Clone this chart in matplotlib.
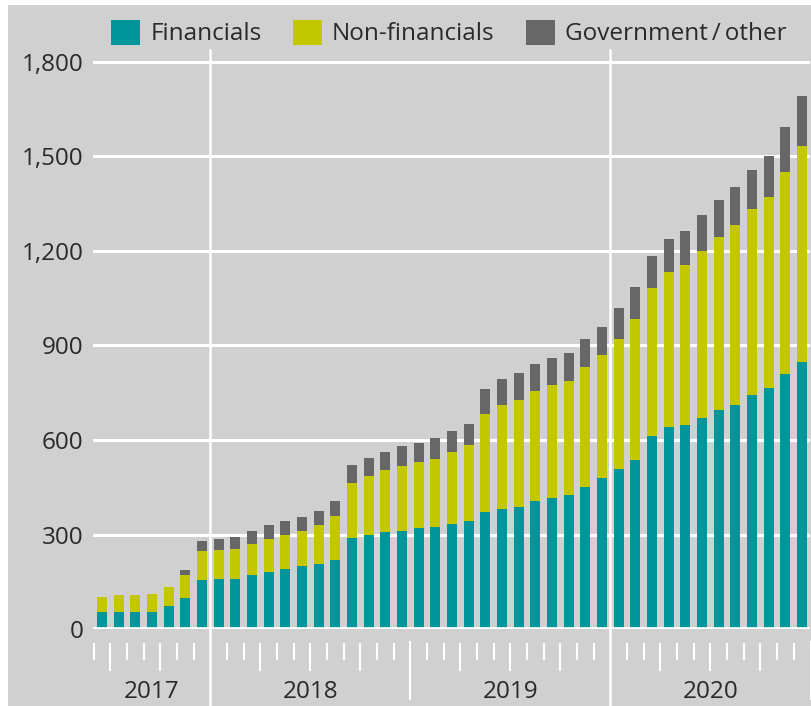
import numpy as np
import pandas as pd
import matplotlib
matplotlib.use('Agg')
import matplotlib.pyplot as plt
from matplotlib.patches import Rectangle, Patch

plt.rcParams['font.family'] = ['Open Sans', 'DejaVu Sans']

# monthly stock, June 2017 - December 2020
months = pd.period_range('2017-06', '2020-12', freq='M')
financials = [54, 54, 54, 54, 73, 99, 156, 158, 160, 172, 183, 191, 199, 206, 218,
              288, 300, 307, 312, 320, 325, 333, 344, 371, 380, 389, 406, 415, 425,
              452, 478, 508, 537, 613, 641, 649, 669, 695, 712, 744, 766, 810, 847]
non_financials = [48, 53, 53, 59, 60, 74, 92, 93, 95, 97, 104, 107, 112, 123, 140,
                  176, 185, 198, 207, 209, 216, 229, 240, 312, 330, 338, 348, 358, 363,
                  380, 393, 413, 448, 468, 492, 506, 530, 549, 571, 588, 605, 639, 686]
government = [0, 0, 0, 0, 0, 15, 33, 35, 36, 41, 43, 44, 45, 46, 48,
              56, 58, 57, 61, 63, 66, 66, 68, 79, 85, 85, 86, 87, 89,
              89, 88, 98, 99, 103, 104, 107, 114, 117, 120, 125, 130, 143, 158]
series_names = ['Financials', 'Non-financials', 'Government\u2009/\u2009other']
colors = ['#00959a', '#c3c700', '#676767']
yticks = [0, 300, 600, 900, 1200, 1500, 1800]

bg = '#d0d0d0'
txt = '#2a2a2a'
W, H = 812, 706

fig = plt.figure(figsize=(W / 100, H / 100), dpi=100, facecolor='white')
fig.patches.append(Rectangle((8 / W, 0), 1, 1 - 5 / H, transform=fig.transFigure,
                             facecolor=bg, edgecolor='none', zorder=-10))

ax = fig.add_axes([93 / W, 1 - 629.2 / H, (810 - 93) / W, (629.2 - 50) / H])
ax.set_facecolor(bg)
for s in ax.spines.values():
    s.set_visible(False)

x = np.arange(len(months))
f = np.array(financials)
nf = np.array(non_financials)
g = np.array(government)
ax.bar(x, f, 0.6, color=colors[0], zorder=3)
ax.bar(x, nf, 0.6, bottom=f, color=colors[1], zorder=3)
ax.bar(x, g, 0.6, bottom=f + nf, color=colors[2], zorder=3)

ax.set_xlim(-0.54, 42.47)
ax.set_ylim(0, 1837)

# horizontal grid
for v in yticks[1:]:
    ax.axhline(v, color='white', lw=2.2, zorder=1)
ax.axhline(0, color='white', lw=3.4, zorder=4)

ax.set_yticks(yticks)
ax.set_yticklabels([f'{v:,}' for v in yticks])
ax.tick_params(axis='y', length=0, pad=7, labelsize=17.5, labelcolor=txt)
ax.set_xticks([])

# month ticks below the axis
tr = ax.get_xaxis_transform()
bounds = np.arange(len(months) + 1) - 0.5
for i, b in enumerate(bounds):
    if i == len(months):
        kind = 'sep'
    else:
        m = months[i].month
        kind = 'sep' if m == 1 else ('long' if m in (4, 7, 10) else 'short')
    if kind == 'short':
        ax.plot([b, b], [-0.026, -0.051], color='white', lw=1.5, transform=tr, clip_on=False)
    elif kind == 'long':
        ax.plot([b, b], [-0.026, -0.071], color='white', lw=1.5, transform=tr, clip_on=False)
    else:
        yr = months[i].year if i < len(months) else 2021
        if yr in (2018, 2020):
            ax.plot([b, b], [1.0, -0.14], color='white', lw=1.8, transform=tr,
                    clip_on=False, zorder=2)
        else:
            ax.plot([b, b], [-0.022, -0.121], color='white', lw=1.5, transform=tr,
                    clip_on=False)

# year labels
years = np.array([p.year for p in months])
for yr in np.unique(years):
    idx = x[years == yr]
    ax.text((idx[0] - 0.5 + idx[-1] + 0.5) / 2, -0.108, str(yr), transform=tr,
            ha='center', va='center', fontsize=17.5, color=txt)

handles = [Patch(facecolor=c, edgecolor='none') for c in colors]
fig.legend(handles, series_names, loc='center', bbox_to_anchor=(449 / W, 1 - 33 / H),
           ncol=3, frameon=False, fontsize=17.5, handlelength=1.2, handleheight=1.2,
           handletextpad=0.4, columnspacing=1.3, labelcolor=txt, borderpad=0)

fig.savefig('out.png', dpi=100, facecolor='white')
